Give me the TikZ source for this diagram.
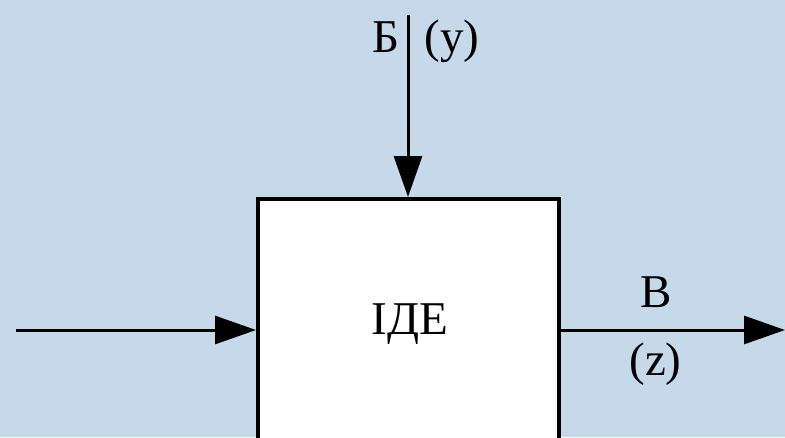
\documentclass[tikz,border=0pt]{standalone}
\usepackage{fontspec}
\setmainfont{Liberation Serif}
\usetikzlibrary{arrows.meta}
\definecolor{bgblue}{RGB}{198,217,234}
\tikzset{
  conn/.style={line width=3pt,-{Triangle[length=41pt,width=28pt]}},
  blockbox/.style={draw,fill=white,line width=4pt,minimum width=301pt,minimum height=260pt,anchor=north,inner sep=0pt},
  lab/.style={anchor=base,inner sep=0pt,font=\fontsize{47}{50}\selectfont}
}
\begin{document}
\begin{tikzpicture}[x=1pt,y=-1pt]
\fill[bgblue] (0,0) rectangle (785,437);
\useasboundingbox (0,0) rectangle (785,437);
\clip (0,0) rectangle (785,437);
\node[blockbox] (box) at (408.5,197) {};
\node[lab] (name) at (410,334) {ІДЕ};
\coordinate (top) at (408,15);
\coordinate (in) at (16,330);
\coordinate (out) at (785,330);
\draw[conn] (top) -- (top |- box.north);
\draw[conn] (in) -- (in -| box.west);
\draw[conn] (out -| box.east) -- (out);
\node[lab] (b) at (385.5,52) {Б};
\node[lab] (y) at (452,52) {(y)};
\node[lab] (v) at (656,307) {В};
\node[lab] (z) at (655.5,375) {(z)};
\end{tikzpicture}
\end{document}
